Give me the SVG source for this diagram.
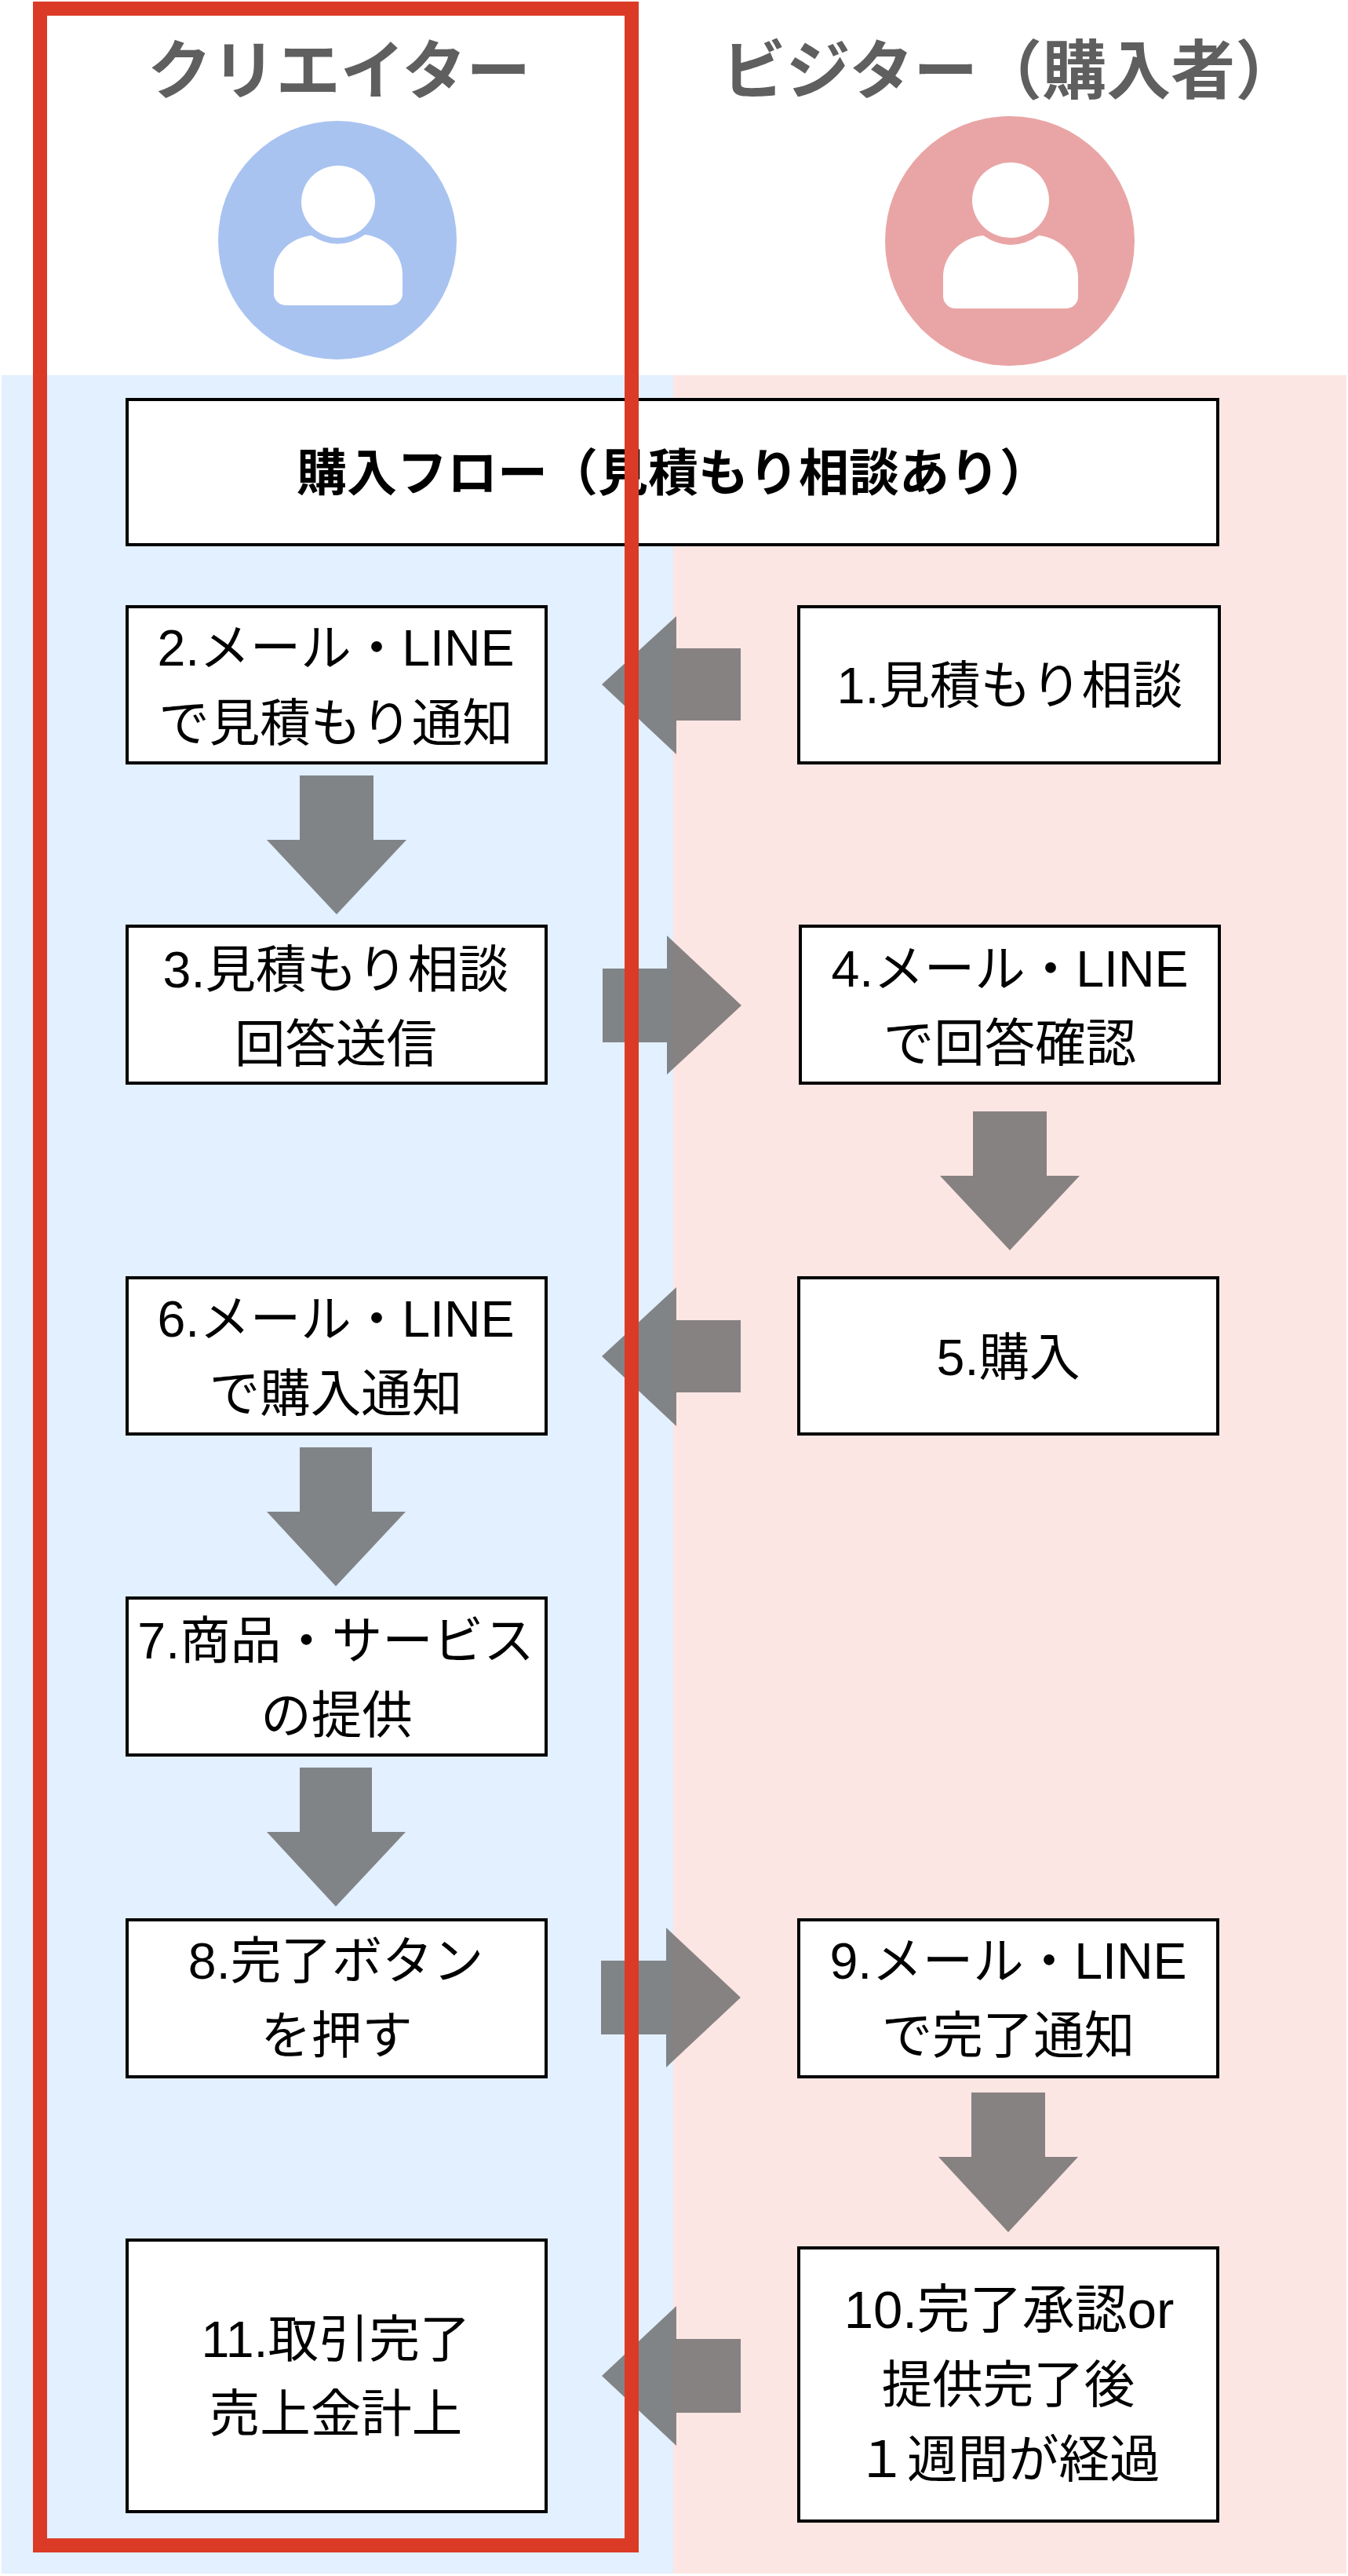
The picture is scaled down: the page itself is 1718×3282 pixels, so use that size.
<svg xmlns="http://www.w3.org/2000/svg" width="1718" height="3282" viewBox="0 0 1718 3282">
<style>
text{font-family:"Liberation Sans","Noto Sans CJK JP",sans-serif;font-size:64.5px;fill:#000;text-anchor:middle}
.h{font-family:"Noto Sans CJK JP",sans-serif;font-size:82px;font-weight:700;fill:#5f5f5f}
.t{font-weight:700;font-size:64px}
.box{fill:#fff;stroke:#000;stroke-width:4}
.arrow{fill:#696969;fill-opacity:.8}
</style>
<rect width="1718" height="3282" fill="#fff"/>
<rect x="2" y="478" width="856" height="2801" fill="#e2f0ff"/>
<rect x="858" y="478" width="858" height="2801" fill="#fce6e4"/>
<g id="creator">
<text class="h" x="432" y="119">クリエイター</text>
<circle cx="430" cy="306" r="152" fill="#a9c3f1"/>
<ellipse cx="431" cy="257" rx="47" ry="46" fill="#fff"/>
<path d="M397 300Q431 322 465 299C492 302 513 323 513 350V374A15 15 0 0 1 498 389H364A15 15 0 0 1 349 374V350C349 323 370 303 397 300Z" fill="#fff"/>
</g>
<g id="visitor">
<text class="h" x="1288" y="119">ビジター（購入者）</text>
<circle cx="1287" cy="307" r="159" fill="#e9a5a5"/>
<ellipse cx="1288" cy="255" rx="49" ry="48" fill="#fff"/>
<path d="M1253 300Q1288 324 1324 300C1352 303 1374 326 1374 353V378A15 15 0 0 1 1359 393H1218A16 16 0 0 1 1202 378V353C1202 326 1224 303 1253 300Z" fill="#fff"/>
</g>
<g id="title"><rect class="box" x="162" y="509" width="1390" height="185"/><text class="t" x="858" y="625">購入フロー（見積もり相談あり）</text></g>
<g id="n1"><rect class="box" x="1018" y="773" width="536" height="199"/><text x="1287" y="896">1.見積もり相談</text></g>
<g id="n2"><rect class="box" x="162" y="773" width="534" height="199"/><text x="428" y="848">2.メール・LINE</text><text x="428" y="944">で見積もり通知</text></g>
<g id="n3"><rect class="box" x="162" y="1180" width="534" height="200"/><text x="428" y="1258">3.見積もり相談</text><text x="428" y="1353">回答送信</text></g>
<g id="n4"><rect class="box" x="1020" y="1180" width="534" height="200"/><text x="1287" y="1257">4.メール・LINE</text><text x="1287" y="1352">で回答確認</text></g>
<g id="n5"><rect class="box" x="1018" y="1628" width="534" height="199"/><text x="1285" y="1752">5.購入</text></g>
<g id="n6"><rect class="box" x="162" y="1628" width="534" height="199"/><text x="428" y="1703">6.メール・LINE</text><text x="428" y="1798">で購入通知</text></g>
<g id="n7"><rect class="box" x="162" y="2036" width="534" height="200"/><text x="428" y="2113">7.商品・サービス</text><text x="429" y="2208">の提供</text></g>
<g id="n8"><rect class="box" x="162" y="2446" width="534" height="200"/><text x="428" y="2521">8.完了ボタン</text><text x="429" y="2616">を押す</text></g>
<g id="n9"><rect class="box" x="1018" y="2446" width="534" height="200"/><text x="1285" y="2521">9.メール・LINE</text><text x="1285" y="2616">で完了通知</text></g>
<g id="n10"><rect class="box" x="1018" y="2864" width="534" height="348"/><text x="1286" y="2966" style="font-size:67px">10.完了承認or</text><text x="1285" y="3061">提供完了後</text><text x="1285" y="3156">１週間が経過</text></g>
<g id="n11"><rect class="box" x="162" y="2854" width="534" height="346"/><text x="428" y="3003">11.取引完了</text><text x="428" y="3098">売上金計上</text></g>
<g id="connectors">
<polygon class="arrow" points="767,872 862,785 862,826 944,826 944,918 862,918 862,961"/>
<polygon class="arrow" points="382,988 476,988 476,1070 518,1070 429,1165 340,1070 382,1070"/>
<polygon class="arrow" points="768,1234 850,1234 850,1192 945,1281 850,1369 850,1328 768,1328"/>
<polygon class="arrow" points="1240,1416 1334,1416 1334,1498 1376,1498 1287,1593 1198,1498 1240,1498"/>
<polygon class="arrow" points="767,1728 862,1640 862,1682 944,1682 944,1774 862,1774 862,1817"/>
<polygon class="arrow" points="382,1844 474,1844 474,1926 517,1926 428,2021 340,1926 382,1926"/>
<polygon class="arrow" points="382,2252 474,2252 474,2334 517,2334 428,2429 340,2334 382,2334"/>
<polygon class="arrow" points="766,2498 849,2498 849,2456 944,2545 849,2634 849,2592 766,2592"/>
<polygon class="arrow" points="1238,2666 1332,2666 1332,2748 1374,2748 1285,2844 1196,2748 1238,2748"/>
<polygon class="arrow" points="767,3027 862,2938 862,2980 944,2980 944,3074 862,3074 862,3116"/>
</g>
<rect id="highlight" x="51" y="11" width="754" height="3232" fill="none" stroke="#db3b26" stroke-width="18"/>
</svg>
